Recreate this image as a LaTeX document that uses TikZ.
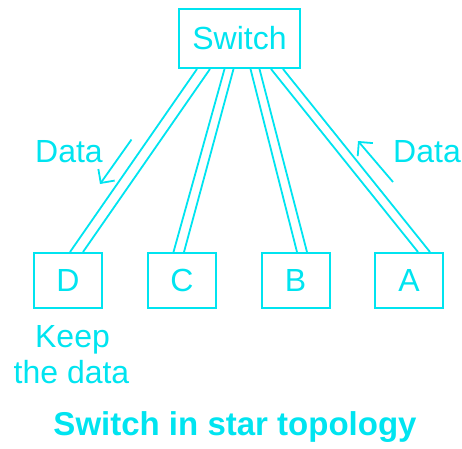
\documentclass[tikz,border=0pt]{standalone}
\usepackage{fontspec}
\setmainfont{Liberation Sans}
\usetikzlibrary{arrows.meta}
\definecolor{cy}{RGB}{0,228,240}
\begin{document}
\begin{tikzpicture}[x=1pt,y=-1pt,
  box/.style={draw=cy,line width=2pt,inner sep=0pt,text=cy,font=\fontsize{32}{36}\selectfont},
  wire/.style={draw=cy,line width=1.8pt},
  lbl/.style={text=cy,font=\fontsize{32}{36}\selectfont,inner sep=0pt,anchor=base,align=center},
  flow/.style={draw=cy,line width=1.8pt,-{Straight Barb[length=10pt,width=20pt,line width=1.8pt]}}]
\useasboundingbox (0,0) rectangle (462,448);
\node[box,minimum width=121pt,minimum height=59pt] (sw) at (239.5,38.5) {Switch};
\node[box,minimum width=68pt,minimum height=55pt] (d) at (68,280.5) {D};
\node[box,minimum width=68pt,minimum height=55pt] (c) at (182,280.5) {C};
\node[box,minimum width=68pt,minimum height=55pt] (b) at (295.5,280.5) {B};
\node[box,minimum width=68pt,minimum height=55pt] (a) at (409,280.5) {A};
% double wires
\draw[wire] ([xshift=-42.5pt]sw.south) -- ([xshift=2pt]d.north);
\draw[wire] ([xshift=-29.5pt]sw.south) -- ([xshift=15pt]d.north);
\draw[wire] ([xshift=-15pt]sw.south) -- ([xshift=-8.5pt]c.north);
\draw[wire] ([xshift=-6pt]sw.south) -- ([xshift=2pt]c.north);
\draw[wire] ([xshift=11pt]sw.south) -- ([xshift=1.5pt]b.north);
\draw[wire] ([xshift=20pt]sw.south) -- ([xshift=11.5pt]b.north);
\draw[wire] ([xshift=31.5pt]sw.south) -- ([xshift=9pt]a.north);
\draw[wire] ([xshift=43.5pt]sw.south) -- ([xshift=21pt]a.north);
% data arrows
\coordinate (l1) at (131.5,139.5);
\coordinate (l2) at (100,184);
\coordinate (r1) at (393,182);
\coordinate (r2) at (358,141);
\draw[flow] (l1) -- (l2);
\draw[flow] (r1) -- (r2);
\node[lbl] (dl) at (69,162) {Data};
\node[lbl] (dr) at (427,162) {Data};
\node[lbl] (k1) at (72.5,347) {Keep};
\node[lbl] (k2) at (71.5,383) {the data};
\node[lbl,font=\fontsize{33}{40}\selectfont\bfseries] (t) at (235,435) {Switch in star topology};
\end{tikzpicture}
\end{document}
